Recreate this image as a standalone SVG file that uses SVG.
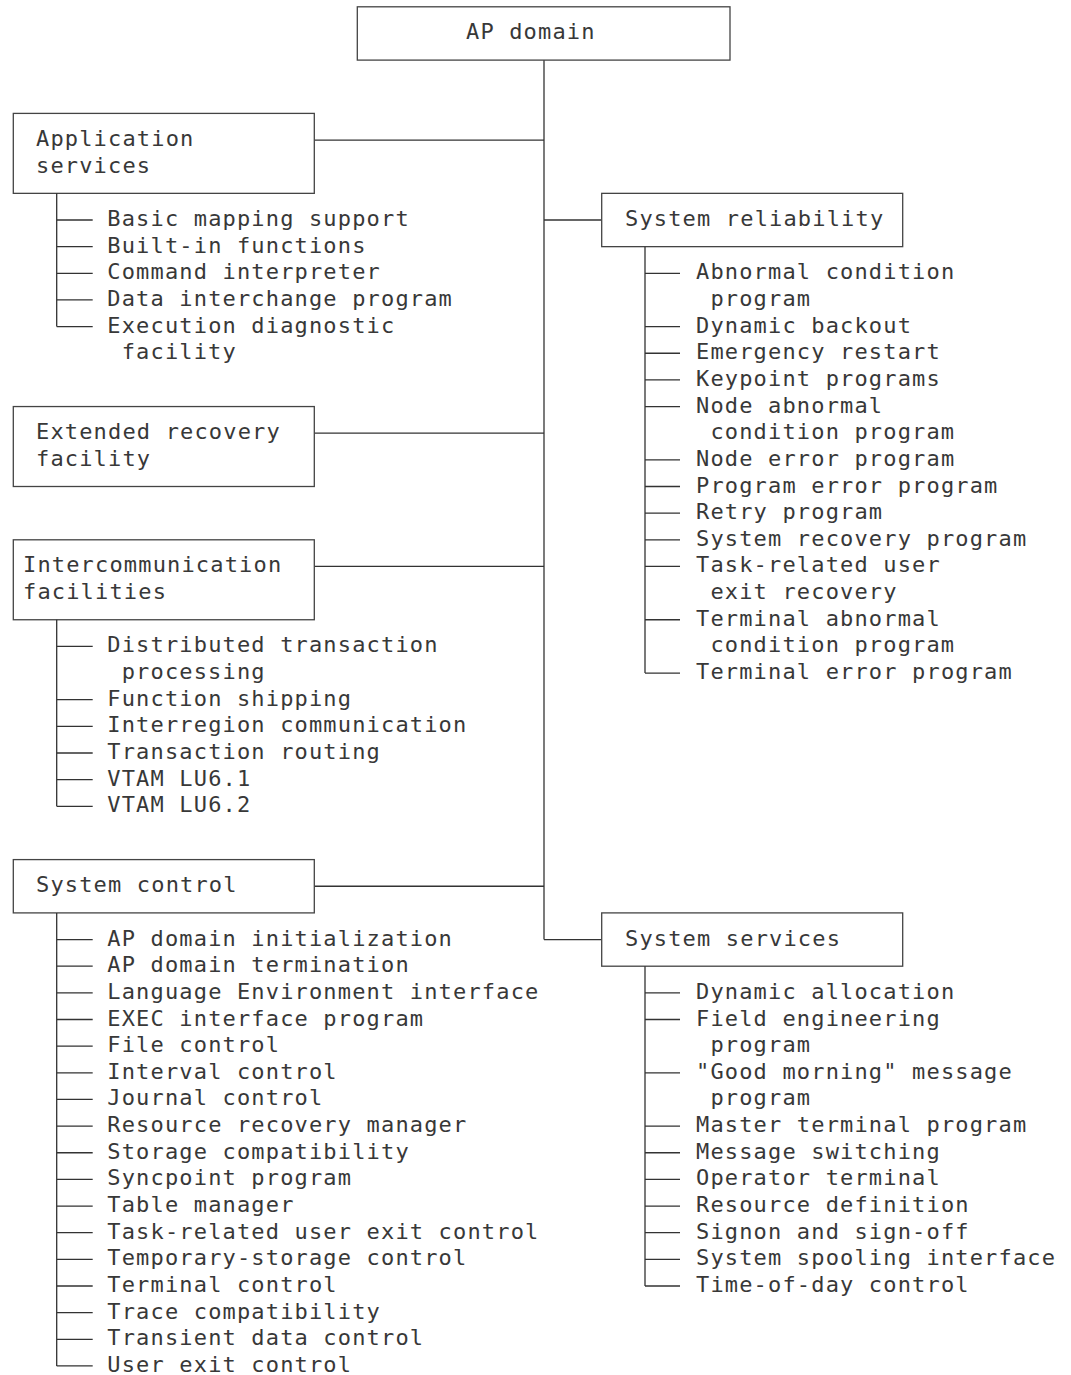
<svg xmlns="http://www.w3.org/2000/svg" width="1071" height="1375" viewBox="0 0 1071 1375">
<style>
text{font-family:"DejaVu Sans Mono","Liberation Mono",monospace;font-size:22px;letter-spacing:1.16px;fill:#383838}
.box{fill:#fff;stroke:#444;stroke-width:1.3}
.ln{fill:none;stroke:#333;stroke-width:1.3}
</style>
<rect width="1071" height="1375" fill="#fff"/>
<g id="connectors" class="ln">
<path d="M544 60.1V939.55"/>
<path d="M314.3 140.05H544"/>
<path d="M544 220H601.7"/>
<path d="M314.3 433.2H544"/>
<path d="M314.3 566.45H544"/>
<path d="M314.3 886.25H544"/>
<path d="M544 939.55H601.7"/>
</g>
<g id="ap-domain">
<rect class="box" x="357.3" y="6.8" width="372.7" height="53.3"/>
<text x="466" y="39.45">AP domain</text>
</g>
<g id="application-services">
<rect class="box" x="13.3" y="113.4" width="301" height="79.95"/>
<text x="36" y="146.05">Application</text>
<text x="36" y="172.7">services</text>
<path class="ln" d="M56.7 193.35V326.6M56.7 220H92.7M56.7 246.65H92.7M56.7 273.3H92.7M56.7 299.95H92.7M56.7 326.6H92.7"/>
<text x="107.3" y="226">Basic mapping support</text>
<text x="107.3" y="252.65">Built-in functions</text>
<text x="107.3" y="279.3">Command interpreter</text>
<text x="107.3" y="305.95">Data interchange program</text>
<text x="107.3" y="332.6">Execution diagnostic</text>
<text x="121.7" y="359.25">facility</text>
</g>
<g id="system-reliability">
<rect class="box" x="601.7" y="193.35" width="301" height="53.3"/>
<text x="625" y="226">System reliability</text>
<path class="ln" d="M645 246.65V673.05M645 273.3H680M645 326.6H680M645 353.25H680M645 379.9H680M645 406.55H680M645 459.85H680M645 486.5H680M645 513.15H680M645 539.8H680M645 566.45H680M645 619.75H680M645 673.05H680"/>
<text x="696" y="279.3">Abnormal condition</text>
<text x="710.4" y="305.95">program</text>
<text x="696" y="332.6">Dynamic backout</text>
<text x="696" y="359.25">Emergency restart</text>
<text x="696" y="385.9">Keypoint programs</text>
<text x="696" y="412.55">Node abnormal</text>
<text x="710.4" y="439.2">condition program</text>
<text x="696" y="465.85">Node error program</text>
<text x="696" y="492.5">Program error program</text>
<text x="696" y="519.15">Retry program</text>
<text x="696" y="545.8">System recovery program</text>
<text x="696" y="572.45">Task-related user</text>
<text x="710.4" y="599.1">exit recovery</text>
<text x="696" y="625.75">Terminal abnormal</text>
<text x="710.4" y="652.4">condition program</text>
<text x="696" y="679.05">Terminal error program</text>
</g>
<g id="extended-recovery">
<rect class="box" x="13.3" y="406.55" width="301" height="79.95"/>
<text x="36" y="439.2">Extended recovery</text>
<text x="36" y="465.85">facility</text>
</g>
<g id="intercommunication">
<rect class="box" x="13.3" y="539.8" width="301" height="79.95"/>
<text x="23" y="572.45">Intercommunication</text>
<text x="23" y="599.1">facilities</text>
<path class="ln" d="M56.7 619.75V806.3M56.7 646.4H92.7M56.7 699.7H92.7M56.7 726.35H92.7M56.7 753H92.7M56.7 779.65H92.7M56.7 806.3H92.7"/>
<text x="107.3" y="652.4">Distributed transaction</text>
<text x="121.7" y="679.05">processing</text>
<text x="107.3" y="705.7">Function shipping</text>
<text x="107.3" y="732.35">Interregion communication</text>
<text x="107.3" y="759">Transaction routing</text>
<text x="107.3" y="785.65">VTAM LU6.1</text>
<text x="107.3" y="812.3">VTAM LU6.2</text>
</g>
<g id="system-control">
<rect class="box" x="13.3" y="859.6" width="301" height="53.3"/>
<text x="36" y="892.25">System control</text>
<path class="ln" d="M56.7 912.9V1365.95M56.7 939.55H92.7M56.7 966.2H92.7M56.7 992.85H92.7M56.7 1019.5H92.7M56.7 1046.15H92.7M56.7 1072.8H92.7M56.7 1099.45H92.7M56.7 1126.1H92.7M56.7 1152.75H92.7M56.7 1179.4H92.7M56.7 1206.05H92.7M56.7 1232.7H92.7M56.7 1259.35H92.7M56.7 1286H92.7M56.7 1312.65H92.7M56.7 1339.3H92.7M56.7 1365.95H92.7"/>
<text x="107.3" y="945.55">AP domain initialization</text>
<text x="107.3" y="972.2">AP domain termination</text>
<text x="107.3" y="998.85">Language Environment interface</text>
<text x="107.3" y="1025.5">EXEC interface program</text>
<text x="107.3" y="1052.15">File control</text>
<text x="107.3" y="1078.8">Interval control</text>
<text x="107.3" y="1105.45">Journal control</text>
<text x="107.3" y="1132.1">Resource recovery manager</text>
<text x="107.3" y="1158.75">Storage compatibility</text>
<text x="107.3" y="1185.4">Syncpoint program</text>
<text x="107.3" y="1212.05">Table manager</text>
<text x="107.3" y="1238.7">Task-related user exit control</text>
<text x="107.3" y="1265.35">Temporary-storage control</text>
<text x="107.3" y="1292">Terminal control</text>
<text x="107.3" y="1318.65">Trace compatibility</text>
<text x="107.3" y="1345.3">Transient data control</text>
<text x="107.3" y="1371.95">User exit control</text>
</g>
<g id="system-services">
<rect class="box" x="601.7" y="912.9" width="301" height="53.3"/>
<text x="625" y="945.55">System services</text>
<path class="ln" d="M645 966.2V1286M645 992.85H680M645 1019.5H680M645 1072.8H680M645 1126.1H680M645 1152.75H680M645 1179.4H680M645 1206.05H680M645 1232.7H680M645 1259.35H680M645 1286H680"/>
<text x="696" y="998.85">Dynamic allocation</text>
<text x="696" y="1025.5">Field engineering</text>
<text x="710.4" y="1052.15">program</text>
<text x="696" y="1078.8">"Good morning" message</text>
<text x="710.4" y="1105.45">program</text>
<text x="696" y="1132.1">Master terminal program</text>
<text x="696" y="1158.75">Message switching</text>
<text x="696" y="1185.4">Operator terminal</text>
<text x="696" y="1212.05">Resource definition</text>
<text x="696" y="1238.7">Signon and sign-off</text>
<text x="696" y="1265.35">System spooling interface</text>
<text x="696" y="1292">Time-of-day control</text>
</g>
</svg>
